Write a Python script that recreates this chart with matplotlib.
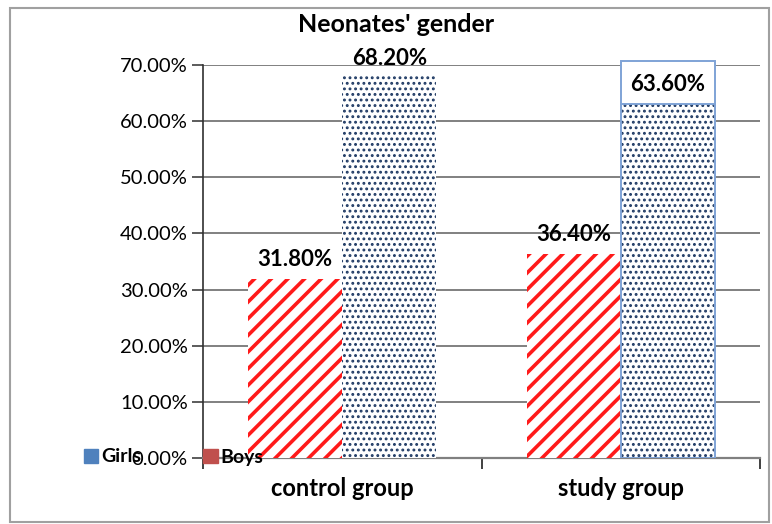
import matplotlib
matplotlib.use("Agg")
import matplotlib.pyplot as plt
from matplotlib.patches import Patch, Rectangle
import numpy as np

categories = ["control group", "study group"]
boys = [0.318, 0.364]
girls = [0.682, 0.636]
boys_labels = ["31.80%", "36.40%"]
girls_labels = ["68.20%", "63.60%"]
ytick_vals = [0.0, 0.1, 0.2, 0.3, 0.4, 0.5, 0.6, 0.7]
ytick_labels = ["0.00%", "10.00%", "20.00%", "30.00%", "40.00%", "50.00%", "60.00%", "70.00%"]

plt.rcParams['font.family'] = ['Lato', 'DejaVu Sans']

W, H = 772, 524
fig = plt.figure(figsize=(W / 100, H / 100), dpi=100)
ax = fig.add_axes([203 / W, 1 - 458 / H, (760 - 203) / W, (458 - 65) / H])

x = np.arange(len(categories))
bw = 0.338

# Boys: red diagonal stripes
with plt.rc_context({'hatch.linewidth': 2.6}):
    bb = ax.bar(x - bw / 2, boys, width=bw, color="white", edgecolor="#FF1A1A",
                hatch="//", linewidth=0, zorder=3)
for p in bb:
    if hasattr(p, "set_hatch_linewidth"):
        p.set_hatch_linewidth(2.6)
# Girls: navy dots
with plt.rc_context({'hatch.linewidth': 1.3}):
    gb = ax.bar(x + bw / 2, girls, width=bw, color="white", edgecolor="#1F3A64",
                hatch="...", linewidth=0, zorder=3)
for p in gb:
    if hasattr(p, "set_hatch_linewidth"):
        p.set_hatch_linewidth(1.3)
# outline of selected girls bar (study group)
ax.bar(x[1] + bw / 2, girls[1], width=bw, fill=False, edgecolor="#7FA3D6",
       linewidth=1.4, zorder=4)

# data labels
lab_fs = 16
for i in range(len(categories)):
    ax.text(x[i] - bw / 2, boys[i] + 0.016, boys_labels[i], ha="center", va="bottom",
            fontsize=lab_fs, fontweight="bold", zorder=5)
ax.text(x[0] + bw / 2, girls[0] + 0.011, girls_labels[0], ha="center", va="bottom",
        fontsize=lab_fs, fontweight="bold", zorder=5, clip_on=False)
ax.text(x[1] + bw / 2, girls[1] + 0.030, girls_labels[1], ha="center", va="center",
        fontsize=lab_fs, fontweight="bold", zorder=6, clip_on=False)
ax.add_patch(Rectangle((x[1], girls[1] - 0.006), bw, 0.078, facecolor="white",
                       edgecolor="#7FA3D6", linewidth=1.4, zorder=5, clip_on=False))

ax.set_xlim(-0.5, 1.5)
ax.set_ylim(0, 0.7)
ax.set_yticks(ytick_vals)
ax.set_yticklabels(ytick_labels, fontsize=14.5)
ax.yaxis.grid(True, color="#808080", linewidth=1.4, zorder=0)
ax.set_axisbelow(True)

ax.set_xticks([-0.5, 0.5, 1.5])
ax.set_xticklabels([])
ax.set_xticks(x, minor=True)
ax.set_xticklabels(categories, minor=True, fontsize=17, fontweight="bold")
ax.tick_params(axis="x", which="minor", length=0, pad=14)
ax.tick_params(axis="x", which="major", length=8, width=1.4, color="#404040")
ax.tick_params(axis="y", length=8, width=1.2, color="#404040", pad=3)

for s in ["top", "right"]:
    ax.spines[s].set_visible(False)
ax.spines["left"].set_color("#303030")
ax.spines["left"].set_linewidth(1.2)
ax.spines["bottom"].set_color("#808080")
ax.spines["bottom"].set_linewidth(1.6)

fig.text(396 / W, 1 - 25 / H, "Neonates' gender", ha="center", va="center",
         fontsize=18, fontweight="bold")

handles = [Patch(facecolor="#4F81BD", edgecolor="#4F81BD"),
           Patch(facecolor="#C0504D", edgecolor="#C0504D")]
fig.legend(handles, ["Girls", "Boys"], ncol=2, loc="center left",
           bbox_to_anchor=(66 / W, 1 - 457 / H), frameon=False,
           handlelength=0.75, handleheight=0.75, handletextpad=0.15,
           columnspacing=3.2, prop={"size": 14, "weight": "bold"})

fig.add_artist(Rectangle((10 / W, 1 - 522 / H), (769 - 10) / W, (522 - 8) / H,
                         transform=fig.transFigure, fill=False,
                         edgecolor="#A0A0A0", linewidth=1.5))

fig.savefig("out.png", dpi=100)
